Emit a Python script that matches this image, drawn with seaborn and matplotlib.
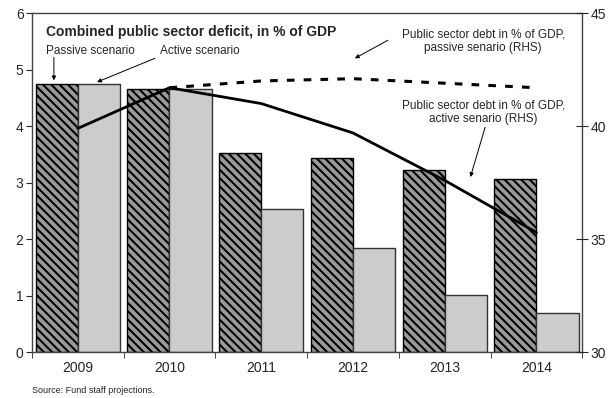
import matplotlib
matplotlib.use("Agg")
import matplotlib.pyplot as plt
import seaborn as sns
import pandas as pd
import numpy as np

years = ["2009", "2010", "2011", "2012", "2013", "2014"]
deficit_passive = [4.75, 4.66, 3.53, 3.43, 3.22, 3.06]
deficit_active = [4.75, 4.66, 2.53, 1.84, 1.01, 0.69]
debt_active = [39.9, 41.7, 41.0, 39.7, 37.6, 35.3]
debt_passive_years = ["2010", "2011", "2012", "2013", "2014"]
debt_passive = [41.7, 42.0, 42.1, 41.9, 41.7]

sns.set_style("white")
plt.rcParams["font.family"] = ["Liberation Sans", "DejaVu Sans"]
plt.rcParams["hatch.color"] = "black"
plt.rcParams["hatch.linewidth"] = 1.5

df = pd.DataFrame({
    "year": years * 2,
    "deficit": deficit_passive + deficit_active,
    "scenario": ["Passive"] * len(years) + ["Active"] * len(years),
})

fig, ax = plt.subplots(figsize=(6.13, 3.98), dpi=100)
fig.subplots_adjust(left=0.052, right=0.95, top=0.967, bottom=0.115)

sns.barplot(data=df, x="year", y="deficit", hue="scenario", order=years,
            palette={"Passive": "#9a9a9a", "Active": "#cccccc"},
            width=0.92, gap=0, edgecolor="#333333", linewidth=1.0,
            legend=False, ax=ax)
for bar in ax.containers[0]:
    bar.set_hatch("\\\\\\\\")
    bar.set_edgecolor("black")

ax.set_ylim(0, 6)
ax.set_xlim(-0.5, len(years) - 0.5)
ax.set_xlabel("")
ax.set_ylabel("")
ax.set_yticks(range(0, 7))
ax.tick_params(axis="y", left=True, length=4, direction="out", labelsize=10, pad=2)
ax.tick_params(axis="x", which="major", length=0, labelsize=10, pad=6)
ax.set_xticks(np.arange(-0.5, len(years), 1), minor=True)
ax.tick_params(axis="x", which="minor", bottom=True, length=4, direction="out")
for s in ax.spines.values():
    s.set_color("#444444")
    s.set_linewidth(1.0)

ax2 = ax.twinx()
sns.pointplot(x=years, y=debt_active, order=years, color="black", markers="",
              linewidth=2.0, errorbar=None, ax=ax2)
sns.pointplot(x=debt_passive_years, y=debt_passive, order=years, color="black",
              markers="", linestyles="--", linewidth=2.2, errorbar=None, ax=ax2)
for ln in ax2.lines[1:]:
    ln.set_dashes((2.5, 3))
ax2.set_ylim(30, 45)
ax2.set_yticks([30, 35, 40, 45])
ax2.set_xlim(-0.5, len(years) - 0.5)
ax2.tick_params(axis="y", right=True, length=8, direction="inout", labelsize=10, pad=2)
ax2.set_ylabel("")
for s in ax2.spines.values():
    s.set_visible(False)

ax.set_xticks(range(len(years)))
ax.set_xticklabels(years)

arrow = dict(arrowstyle="-|>", color="black", lw=0.7, shrinkA=0, shrinkB=0,
             mutation_scale=6)
ax.text(0.025, 0.945, "Combined public sector deficit, in % of GDP",
        transform=ax.transAxes, fontsize=10, fontweight="bold", va="center")
ax.text(0.025, 0.888, "Passive scenario", transform=ax.transAxes,
        fontsize=8.5, va="center")
ax.annotate("", xy=(-0.26, 4.81), xytext=(-0.26, 5.22), arrowprops=arrow)
ax.text(0.232, 0.888, "Active scenario", transform=ax.transAxes,
        fontsize=8.5, va="center")
ax.annotate("", xy=(0.21, 4.78), xytext=(0.84, 5.2), arrowprops=arrow)

ax.text(0.82, 0.955, "Public sector debt in % of GDP,\npassive senario (RHS)",
        transform=ax.transAxes, fontsize=8.5, ha="center", va="top",
        multialignment="center")
ax.annotate("", xy=(3.02, 5.2), xytext=(3.38, 5.52), arrowprops=arrow)
ax.text(0.82, 0.745, "Public sector debt in % of GDP,\nactive senario (RHS)",
        transform=ax.transAxes, fontsize=8.5, ha="center", va="top",
        multialignment="center")
ax.annotate("", xy=(4.28, 3.10), xytext=(4.44, 3.98), arrowprops=arrow)

fig.text(0.052, 0.008, "Source: Fund staff projections.", fontsize=6.5, va="bottom")

plt.savefig("out.png", dpi=100)
plt.close()
